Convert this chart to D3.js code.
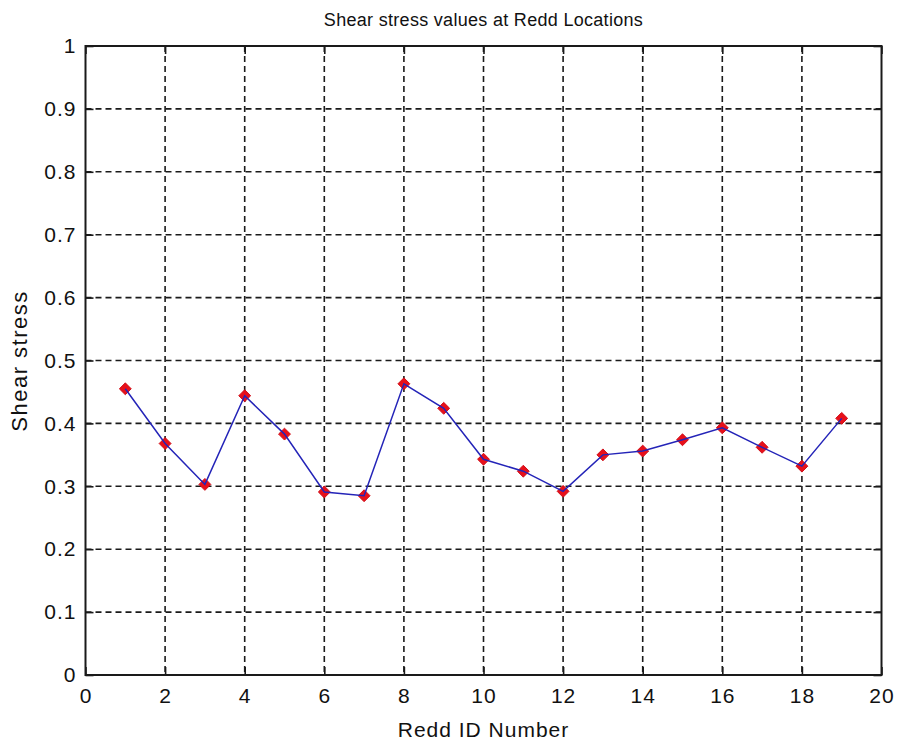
<!DOCTYPE html>
<html><head><meta charset="utf-8">
<script src="https://cdn.jsdelivr.net/npm/d3@7"></script>
<style>body{margin:0;background:#fff}svg{display:block}text{font-family:"Liberation Sans",Arial,sans-serif;fill:#111}</style>
</head><body><div id="chart"></div>
<script>
const reddIds = [1,2,3,4,5,6,7,8,9,10,11,12,13,14,15,16,17,18,19];
const shearStress = [0.455,0.368,0.303,0.444,0.383,0.291,0.285,0.463,0.424,0.343,0.324,0.292,0.350,0.356,0.374,0.393,0.362,0.332,0.408];
const xTicks = [0,2,4,6,8,10,12,14,16,18,20];
const yTicks = [0,0.1,0.2,0.3,0.4,0.5,0.6,0.7,0.8,0.9,1];
const titleText = "Shear stress values at Redd Locations";
const xLabel = "Redd ID Number";
const yLabel = "Shear stress";

const W = 898, H = 743;
const L = 85.5, R = 881.5, T = 46, B = 675;
const svg = d3.select("#chart").append("svg").attr("width", W).attr("height", H);
const x = d3.scaleLinear().domain([0,20]).range([L,R]);
const y = d3.scaleLinear().domain([0,1]).range([B,T]);

// grid
const g = svg.append("g");
g.selectAll("line.gx").data(xTicks.slice(1,-1)).join("line")
  .attr("x1",d=>x(d)).attr("x2",d=>x(d)).attr("y1",T).attr("y2",B)
  .attr("stroke","#1a1a1a").attr("stroke-width",1.6).attr("stroke-dasharray","6,4");
g.selectAll("line.gy").data(yTicks.slice(1,-1)).join("line")
  .attr("y1",d=>y(d)).attr("y2",d=>y(d)).attr("x1",L).attr("x2",R)
  .attr("stroke","#1a1a1a").attr("stroke-width",1.6).attr("stroke-dasharray","6,4");

// axes with inward ticks
const fs = 21;
const xAxis = svg.append("g").attr("transform",`translate(0,${B})`)
  .call(d3.axisBottom(x).tickValues(xTicks).tickFormat(d3.format("d")).tickSizeInner(-8).tickSizeOuter(0).tickPadding(13));
const yAxis = svg.append("g").attr("transform",`translate(${L},0)`)
  .call(d3.axisLeft(y).tickValues(yTicks).tickFormat(d=>d===0||d===1?String(d):d3.format(".1f")(d)).tickSizeInner(-8).tickSizeOuter(0).tickPadding(9));
const xTop = svg.append("g").attr("transform",`translate(0,${T})`)
  .call(d3.axisTop(x).tickValues(xTicks).tickFormat("").tickSizeInner(-8).tickSizeOuter(0));
const yRight = svg.append("g").attr("transform",`translate(${R},0)`)
  .call(d3.axisRight(y).tickValues(yTicks).tickFormat("").tickSizeInner(-8).tickSizeOuter(0));
[xAxis,yAxis,xTop,yRight].forEach(a=>{
  a.select(".domain").remove();
  a.selectAll(".tick line").attr("stroke","#1a1a1a").attr("stroke-width",1.6);
  a.selectAll("text").style("font-size",fs+"px").style("font-family","Liberation Sans, Arial, sans-serif").style("letter-spacing","1px").attr("fill","#111");
});
xAxis.selectAll("text").attr("dy","0.71em");

svg.append("rect").attr("x",L).attr("y",T).attr("width",R-L).attr("height",B-T)
  .attr("fill","none").attr("stroke","#1a1a1a").attr("stroke-width",2);

// markers then line
const pts = reddIds.map((d,i)=>[d,shearStress[i]]);
const diamond = d3.symbol().type(d3.symbolDiamond2).size(90);
svg.append("g").selectAll("path").data(pts).join("path")
  .attr("d",diamond).attr("transform",d=>`translate(${x(d[0])},${y(d[1])})`)
  .attr("fill","#e8101a").attr("stroke","#d0101a").attr("stroke-width",1);
svg.append("path").datum(pts)
  .attr("d",d3.line().x(d=>x(d[0])).y(d=>y(d[1])))
  .attr("fill","none").attr("stroke","#2424b8").attr("stroke-width",1.5);

// labels
svg.append("text").attr("x",(L+R)/2).attr("y",26).attr("text-anchor","middle")
  .style("font-size","18px").style("letter-spacing","0.3px").text(titleText);
svg.append("text").attr("x",(L+R)/2).attr("y",737).attr("text-anchor","middle")
  .style("font-size","21px").style("letter-spacing","1px").text(xLabel);
svg.append("text").attr("transform",`translate(27,${361}) rotate(-90)`).attr("text-anchor","middle")
  .style("font-size","22px").style("letter-spacing","1.5px").text(yLabel);
</script></body></html>
